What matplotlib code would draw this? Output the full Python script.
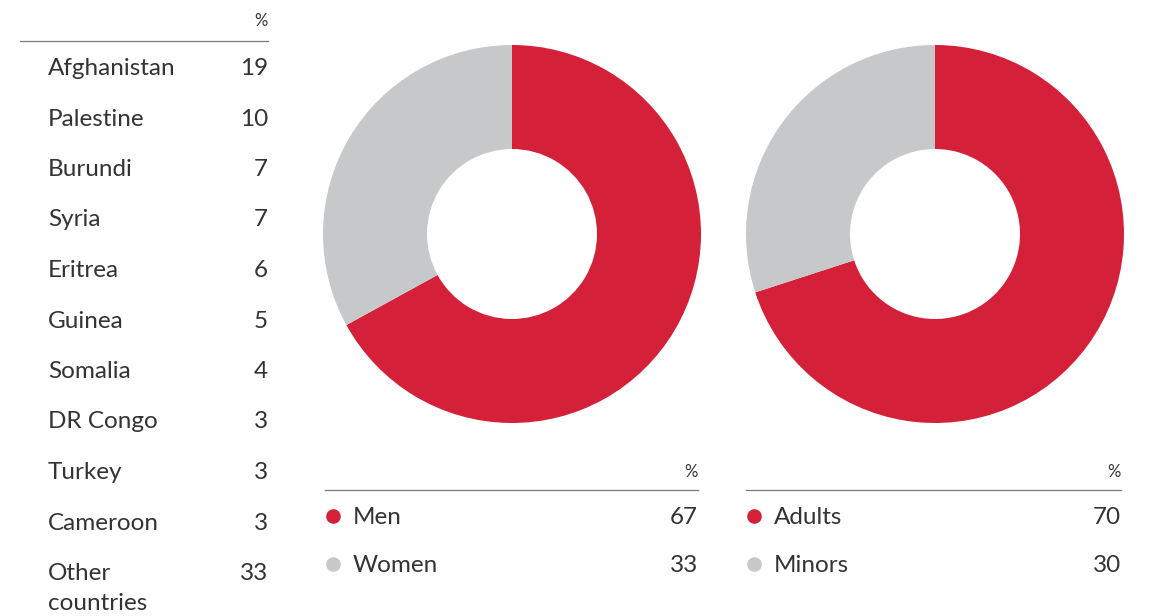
import matplotlib
matplotlib.use("Agg")
import matplotlib.pyplot as plt

countries = ["Afghanistan", "Palestine", "Burundi", "Syria", "Eritrea", "Guinea",
             "Somalia", "DR Congo", "Turkey", "Cameroon", "Other\ncountries"]
country_pct = [19, 10, 7, 7, 6, 5, 4, 3, 3, 3, 33]

gender_labels = ["Men", "Women"]
gender_pct = [67, 33]

age_labels = ["Adults", "Minors"]
age_pct = [70, 30]

RED = "#D52039"
GREY = "#C7C8CA"
TXT = "#333333"
LINE = "#7a7a7a"
colors = [RED, GREY]

plt.rcParams['font.family'] = ['Lato', 'DejaVu Sans']

W, H = 1155, 616
fig = plt.figure(figsize=(W / 100, H / 100), dpi=100)

def pie_axes(cx, cy, r):
    ax = fig.add_axes([(cx - r) / W, 1 - (cy + r) / H, 2 * r / W, 2 * r / H])
    return ax

for cx, vals in [(512, gender_pct), (935, age_pct)]:
    ax = pie_axes(cx, 234, 189)
    ax.pie(vals, colors=colors, startangle=90, counterclock=False, radius=1,
           wedgeprops=dict(width=1 - 85 / 189, linewidth=0))
    ax.set_xlim(-1, 1)
    ax.set_ylim(-1, 1)
    ax.set_aspect('auto')
    ax.axis('off')

ov = fig.add_axes([0, 0, 1, 1])
ov.set_xlim(0, W)
ov.set_ylim(H, 0)
ov.axis('off')

FS = 17.5
PS = 12
WT = 'normal'
kw = dict(fontsize=FS, color=TXT, fontweight=WT, va='baseline')

# country table
ov.text(268, 26, "%", ha='right', va='baseline', fontsize=PS, color=TXT, fontweight=WT)
ov.plot([20, 268], [41, 41], color=LINE, lw=0.9)
row_y = 75
step = 50.5
for i, (c, v) in enumerate(zip(countries, country_pct)):
    y = row_y + i * step
    if "\n" in c:
        first, second = c.split("\n")
        ov.text(48, y, first, ha='left', **kw)
        ov.text(48, y + 30, second, ha='left', **kw)
    else:
        ov.text(48, y, c, ha='left', **kw)
    ov.text(268, y, str(v), ha='right', **kw)

# legends
for x0, x1, labels, vals in [(325, 698, gender_labels, gender_pct),
                             (746, 1121, age_labels, age_pct)]:
    ov.text(x1, 477, "%", ha='right', va='baseline', fontsize=PS, color=TXT, fontweight=WT)
    ov.plot([x0, x1], [490, 490], color=LINE, lw=0.9)
    for j, (lab, v) in enumerate(zip(labels, vals)):
        y = 524 + j * 48
        ov.plot([x0 + 8], [y - 8], marker='o', markersize=10.5, color=colors[j], mew=0)
        ov.text(x0 + 28, y, lab, ha='left', **kw)
        ov.text(x1, y, str(v), ha='right', **kw)

fig.savefig("out.png", dpi=100)
